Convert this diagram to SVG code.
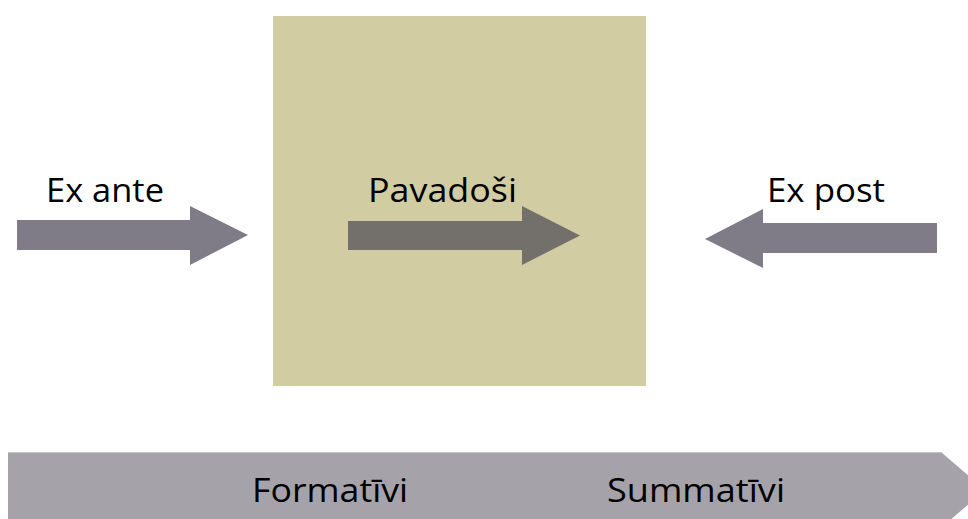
<svg xmlns="http://www.w3.org/2000/svg" width="968" height="519" viewBox="0 0 968 519">
<style>
.lbl{font-family:"Open Sans","Noto Sans","Liberation Sans",sans-serif;font-size:33px;fill:#000}
.side{fill:#7f7c87}
</style>
<rect width="968" height="519" fill="#ffffff"/>
<g id="timeline">
<polygon points="8,452 941,452 985,490 941,528 8,528" fill="#a5a3a9"/>
<line x1="8" y1="452.5" x2="941" y2="452.5" stroke="#c4c3c7" stroke-width="1"/>
<text class="lbl" x="252" y="502" textLength="156" lengthAdjust="spacingAndGlyphs">Formatīvi</text>
<text class="lbl" x="607" y="502" textLength="178" lengthAdjust="spacingAndGlyphs">Summatīvi</text>
</g>
<g id="pavadosi">
<rect x="273" y="16" width="373" height="370" fill="#d2cca2"/>
<text class="lbl" x="368" y="202" textLength="149" lengthAdjust="spacingAndGlyphs">Pavadoši</text>
</g>
<g id="connectors">
<polygon id="arrow-ex-ante" class="side" points="17,220 190,220 190,206 248,235 190,265 190,250 17,250"/>
<polygon id="arrow-pavadosi" points="348,221 522,221 522,206 580,235.5 522,265 522,250 348,250" fill="#736f6a"/>
<polygon id="arrow-ex-post" class="side" points="937,223 763,223 763,209 705,239 763,268 763,253 937,253"/>
</g>
<g id="ex-ante">
<text class="lbl" x="46" y="202" textLength="118" lengthAdjust="spacingAndGlyphs">Ex ante</text>
</g>
<g id="ex-post">
<text class="lbl" x="767" y="202" textLength="118" lengthAdjust="spacingAndGlyphs">Ex post</text>
</g>
</svg>
